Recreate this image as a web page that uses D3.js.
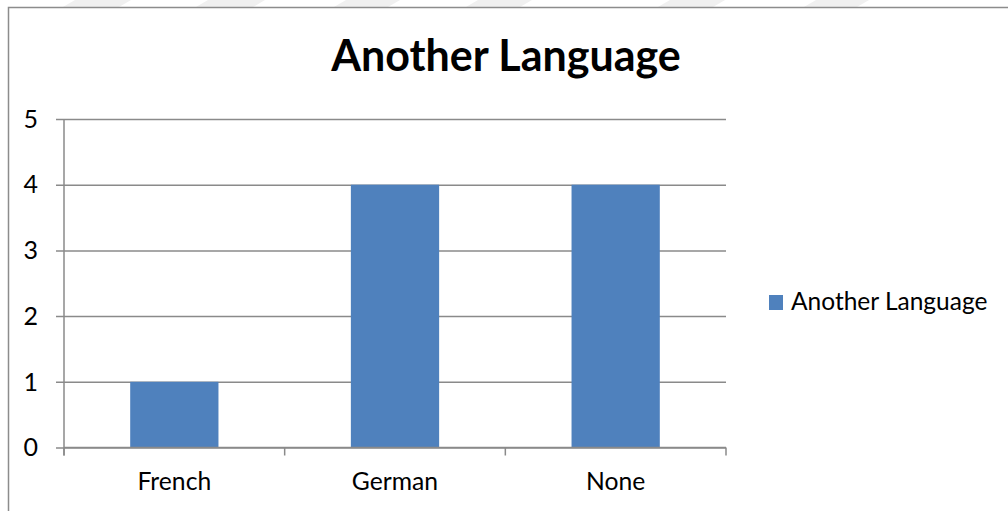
<!DOCTYPE html>
<html>
<head>
<meta charset="utf-8">
<script src="https://cdn.jsdelivr.net/npm/d3@7"></script>
<style>
  body { margin: 0; background: #fff; }
  svg { display: block; font-family: Lato, "Open Sans", sans-serif; }
</style>
</head>
<body>
<div id="chart"></div>
<script>
const categories = ["French", "German", "None"];
const values = [1, 4, 4];
const yTicks = [0, 1, 2, 3, 4, 5];
const seriesName = "Another Language";
const title = "Another Language";

const width = 1008, height = 511,
    margin = ({ top: 119, right: 282, bottom: 63.5, left: 64 }); // plot area

const svg = d3.select("#chart")
    .append("svg")
    .attr("width", width)
    .attr("height", height);

// faint watermark stripes above the chart frame
const stripes = [[67, 123], [200, 257], [338, 392], [470, 524], [662, 717], [808, 861]];
svg.selectAll("path.stripe")
    .data(stripes)
    .join("path")
    .attr("class", "stripe")
    .attr("d", d => `M${d[0] + 8},0 L${d[1] + 8},0 L${d[1] - 4},7 L${d[0] - 4},7 Z`)
    .attr("fill", "#f0f0f0");

// chart frame
svg.append("rect")
    .attr("x", 8.5).attr("y", 7.5)
    .attr("width", width + 20).attr("height", height + 20)
    .attr("fill", "none")
    .attr("stroke", "#8c8c8c")
    .attr("stroke-width", 1.5);

let x = d3.scaleBand()
    .domain(categories)
    .range([margin.left, width - margin.right])
    .paddingInner(0.6)
    .paddingOuter(0.3);

let xEdge = d3.scaleLinear() // category boundaries for ticks
    .domain([0, categories.length])
    .range([margin.left, width - margin.right]);

let y = d3.scaleLinear()
    .domain([0, 5])
    .range([height - margin.bottom, margin.top]);

// gridlines + y ticks
svg.append("g")
    .attr("transform", `translate(${margin.left},0)`)
    .call(d3.axisLeft(y).tickValues(yTicks).tickSize(-(width - margin.right - margin.left)).tickSizeOuter(0).tickFormat(""))
    .call(g => g.select(".domain").remove())
    .call(g => g.selectAll(".tick line").attr("stroke", "#8a8a8a").attr("stroke-width", 1.5).attr("x1", -8));

// bars
svg.selectAll("rect.bar")
    .data(values)
    .join("rect")
    .attr("class", "bar")
    .attr("x", (d, i) => x(categories[i]))
    .attr("y", d => y(d))
    .attr("width", x.bandwidth())
    .attr("height", d => y(0) - y(d))
    .attr("fill", "#4f81bd");

// x axis line at 0 with category boundary ticks
svg.append("line")
    .attr("x1", margin.left).attr("x2", width - margin.right)
    .attr("y1", y(0)).attr("y2", y(0))
    .attr("stroke", "#8a8a8a").attr("stroke-width", 1.5);

svg.selectAll("line.xtick")
    .data(d3.range(categories.length + 1))
    .join("line")
    .attr("class", "xtick")
    .attr("x1", d => xEdge(d)).attr("x2", d => xEdge(d))
    .attr("y1", y(0)).attr("y2", y(0) + 8)
    .attr("stroke", "#8a8a8a").attr("stroke-width", 1.5);

// y axis line
svg.append("line")
    .attr("x1", margin.left).attr("x2", margin.left)
    .attr("y1", y(5)).attr("y2", y(0) + 8)
    .attr("stroke", "#8a8a8a").attr("stroke-width", 1.5);

// y labels
svg.selectAll("text.ylab")
    .data(yTicks)
    .join("text")
    .attr("class", "ylab")
    .attr("x", 38)
    .attr("y", d => y(d))
    .attr("dy", "0.35em")
    .attr("text-anchor", "end")
    .attr("font-size", 25)
    .attr("fill", "#000")
    .text(d => d);

// x labels
svg.selectAll("text.xlab")
    .data(categories)
    .join("text")
    .attr("class", "xlab")
    .attr("x", d => x(d) + x.bandwidth() / 2)
    .attr("y", 490)
    .attr("text-anchor", "middle")
    .attr("font-size", 24.7)
    .attr("fill", "#000")
    .text(d => d);

// title
svg.append("text")
    .attr("x", 506)
    .attr("y", 71)
    .attr("text-anchor", "middle")
    .attr("font-size", 43)
    .attr("font-weight", "bold")
    .attr("fill", "#000")
    .text(title);

// legend
svg.append("rect")
    .attr("x", 769).attr("y", 295)
    .attr("width", 14).attr("height", 15)
    .attr("fill", "#4f81bd");

svg.append("text")
    .attr("x", 791)
    .attr("y", 310)
    .attr("font-size", 24.5)
    .attr("fill", "#000")
    .text(seriesName);
</script>
</body>
</html>
